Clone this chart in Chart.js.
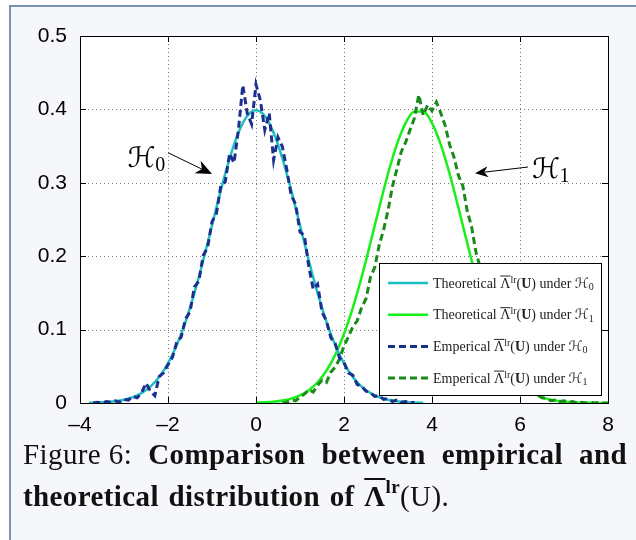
<!DOCTYPE html>
<html>
<head>
<meta charset="utf-8">
<script src="https://cdn.jsdelivr.net/npm/chart.js@4.4.1/dist/chart.umd.min.js"></script>
<style>
html, body { margin: 0; padding: 0; background: #fff; width: 636px; height: 540px; overflow: hidden; }
#box { position: absolute; left: 9px; top: 5px; width: 700px; height: 600px; border: 2px solid #7b92b3; background: #f5f7fa; }
#chart { position: absolute; left: 0; top: 0; }
.cap { position: absolute; left: 23px; width: 604px; font-family: "Liberation Serif", serif; font-size: 29px; color: #111; letter-spacing: 0.4px; }
#cap1 { top: 438px; text-align: justify; text-align-last: justify; }
#cap2 { top: 480px; white-space: nowrap; word-spacing: 2px; }
.fig { display: inline-block; }
.ol { text-decoration: overline; }
.sup { font-size: 19px; position: relative; top: -13px; }
</style>
</head>
<body>
<div id="box"></div>
<canvas id="chart" width="636" height="440"></canvas>
<div class="cap" id="cap1"><span class="fig">Figure 6:</span> <b>Comparison between empirical and</b></div>
<div class="cap" id="cap2"><b>theoretical distribution of <span class="ol">Λ</span><span class="sup">lr</span></b>(U).</div>
<script>
// theoretical densities
const theoH0X = [-3.8,-3.6,-3.4,-3.2,-3.0,-2.8,-2.6,-2.4,-2.2,-2.0,-1.8,-1.6,-1.4,-1.2,-1.0,-0.8,-0.6,-0.4,-0.2,0,
  0.2,0.4,0.6,0.8,1.0,1.2,1.4,1.6,1.8,2.0,2.2,2.4,2.6,2.8,3.0,3.2,3.4,3.6,3.8];
const theoH0Y = [0.0003,0.0006,0.0012,0.0024,0.0044,0.0079,0.0136,0.0224,0.0355,0.0540,0.0790,0.1109,0.1497,0.1942,
  0.2420,0.2897,0.3332,0.3683,0.3910,0.3989,0.3910,0.3683,0.3332,0.2897,0.2420,0.1942,0.1497,0.1109,0.0790,0.0540,
  0.0355,0.0224,0.0136,0.0079,0.0044,0.0024,0.0012,0.0006,0.0003];

const theoH1X = [0,0.2,0.4,0.6,0.8,1.0,1.2,1.4,1.6,1.8,2.0,2.2,2.4,2.6,2.8,3.0,3.2,3.4,3.6,3.8,
  4.0,4.2,4.4,4.6,4.8,5.0,5.2,5.4,5.6,5.8,6.0,6.2,6.4,6.6,6.8,7.0,7.2,7.4,7.6,7.8,8.0];
const theoH1Y = [0.0004,0.0009,0.0017,0.0033,0.0060,0.0104,0.0175,0.0283,0.0440,0.0656,0.0940,0.1295,0.1714,0.2179,
  0.2661,0.3123,0.3521,0.3814,0.3970,0.3970,0.3814,0.3521,0.3123,0.2661,0.2179,0.1714,0.1295,0.0940,0.0656,0.0440,
  0.0283,0.0175,0.0104,0.0060,0.0033,0.0017,0.0009,0.0004,0.0002,0.0001,0.0000];

// empirical histograms
const empH0X = [-3.7,-3.6,-3.5,-3.4,-3.3,-3.2,-3.1,-3.0,-2.9,-2.8,-2.7,-2.6,-2.5,-2.4,-2.3,-2.2,-2.1,-2.0,-1.9,-1.8,
  -1.7,-1.6,-1.5,-1.4,-1.3,-1.2,-1.1,-1.0,-0.9,-0.8,-0.7,-0.6,-0.5,-0.4,-0.3,-0.2,-0.1,0.0,0.1,0.2,
  0.3,0.4,0.5,0.6,0.7,0.8,0.9,1.0,1.1,1.2,1.3,1.4,1.5,1.6,1.7,1.8,1.9,2.0,2.1,2.2,
  2.3,2.4,2.5,2.6,2.7,2.8,2.9,3.0,3.1,3.2,3.3,3.4,3.5,3.6];
const empH0Y = [0.000,0.001,0.000,0.002,0.001,0.003,0.001,0.005,0.004,0.009,0.007,0.014,0.027,0.016,0.010,0.036,0.041,0.052,0.062,0.083,
  0.090,0.115,0.124,0.158,0.166,0.201,0.212,0.247,0.258,0.296,0.301,0.340,0.327,0.372,0.433,0.395,0.380,0.434,0.412,0.372,
  0.395,0.331,0.362,0.349,0.318,0.283,0.271,0.233,0.228,0.186,0.155,0.162,0.124,0.112,0.089,0.081,0.061,0.055,0.041,0.038,
  0.025,0.023,0.016,0.014,0.009,0.010,0.005,0.006,0.002,0.004,0.001,0.002,0.000,0.001];

const empH1X = [0.6,0.7,0.8,0.9,1.0,1.1,1.2,1.3,1.4,1.5,1.6,1.7,1.8,1.9,2.0,2.1,2.2,2.3,2.4,2.5,
  2.6,2.7,2.8,2.9,3.0,3.1,3.2,3.3,3.4,3.5,3.6,3.7,3.8,3.9,4.0,4.1,4.2,4.3,4.4,4.5,
  4.6,4.7,4.8,4.9,5.0,5.1,5.2,5.3,5.4,5.5,5.6,5.7,5.8,5.9,6.0,6.1,6.2,6.3,6.4,6.5,
  6.6,6.7,6.8,6.9,7.0,7.1,7.2,7.3,7.4,7.5,7.6,7.7,7.8,7.9,8.0];
const empH1Y = [0.000,0.001,0.004,0.003,0.008,0.012,0.018,0.015,0.024,0.031,0.028,0.042,0.049,0.060,0.078,0.090,0.104,0.112,0.130,0.142,
  0.171,0.185,0.215,0.236,0.262,0.295,0.318,0.342,0.355,0.372,0.388,0.420,0.392,0.406,0.398,0.410,0.395,0.378,0.352,0.335,
  0.310,0.296,0.262,0.240,0.205,0.184,0.160,0.138,0.117,0.096,0.081,0.064,0.052,0.041,0.032,0.024,0.019,0.013,0.011,0.007,
  0.006,0.003,0.004,0.002,0.003,0.001,0.002,0.000,0.001,0.000,0.001,0.000,0.001,0.000,0.000];

const xTickLabels = ['\u20134', '\u20132', '0', '2', '4', '6', '8'];
const yTickLabels = ['0', '0.1', '0.2', '0.3', '0.4', '0.5'];

const legendKinds = ['Theoretical', 'Theoretical', 'Emperical', 'Emperical'];
const legendSubs = ['0', '1', '0', '1'];

// annotation labels, arrow start and tip in data units
const notes = [
  { sub: '0', lx: -2.92, ly: 0.322, from: [-2.0, 0.341], to: [-1.0, 0.312], head: [16, 14] },
  { sub: '1', lx: 6.27, ly: 0.3065, from: [6.18, 0.3215], to: [4.98, 0.313], head: [13, 11] }
];

function zip(xs, ys) {
  return xs.map((x, i) => ({ x: x, y: ys[i] }));
}

const SERIF = '"Liberation Serif", serif';
const SCRIPT = '"DejaVu Serif", "DejaVu Sans", serif';

function richText(ctx, x, y, parts) {
  parts.forEach(p => {
    ctx.font = p.f;
    ctx.fillText(p.t, x, y + (p.dy || 0));
    const w = ctx.measureText(p.t).width;
    if (p.over) {
      ctx.beginPath();
      ctx.moveTo(x, y - p.over);
      ctx.lineTo(x + w, y - p.over);
      ctx.lineWidth = 1;
      ctx.stroke();
    }
    x += w;
  });
}

function arrow(ctx, x1, y1, x2, y2, len, wid) {
  const a = Math.atan2(y2 - y1, x2 - x1);
  ctx.beginPath();
  ctx.moveTo(x1, y1);
  ctx.lineTo(x2 - len * 0.7 * Math.cos(a), y2 - len * 0.7 * Math.sin(a));
  ctx.lineWidth = 1;
  ctx.stroke();
  ctx.save();
  ctx.translate(x2, y2);
  ctx.rotate(a);
  ctx.beginPath();
  ctx.moveTo(0, 0);
  ctx.lineTo(-len, -wid / 2);
  ctx.lineTo(-len * 0.7, 0);
  ctx.lineTo(-len, wid / 2);
  ctx.closePath();
  ctx.fill();
  ctx.restore();
}

const framePlugin = {
  id: 'frame',
  beforeDraw(chart) {
    const { ctx, chartArea: a } = chart;
    ctx.save();
    ctx.fillStyle = '#fff';
    ctx.fillRect(a.left, a.top, a.width, a.height);
    ctx.restore();
  },
  beforeDatasetsDraw(chart) {
    const { ctx, chartArea: a, scales: { x, y } } = chart;
    ctx.save();
    ctx.strokeStyle = '#777';
    ctx.lineWidth = 1;
    ctx.setLineDash([1, 3]);
    x.ticks.forEach(t => {
      const px = Math.round(x.getPixelForValue(t.value)) + 0.5;
      if (px < a.left + 2 || px > a.right - 2) return;
      ctx.beginPath(); ctx.moveTo(px, a.top); ctx.lineTo(px, a.bottom); ctx.stroke();
    });
    y.ticks.forEach(t => {
      const py = Math.round(y.getPixelForValue(t.value)) + 0.5;
      if (py < a.top + 2 || py > a.bottom - 2) return;
      ctx.beginPath(); ctx.moveTo(a.left, py); ctx.lineTo(a.right, py); ctx.stroke();
    });
    ctx.restore();
  },
  afterDatasetsDraw(chart) {
    const { ctx, chartArea: a, scales: { x, y } } = chart;
    ctx.save();
    // box and inward ticks
    ctx.strokeStyle = '#000';
    ctx.lineWidth = 1;
    ctx.strokeRect(Math.round(a.left) + 0.5, Math.round(a.top) + 0.5, Math.round(a.width), Math.round(a.height));
    ctx.beginPath();
    x.ticks.forEach(t => {
      const px = Math.round(x.getPixelForValue(t.value)) + 0.5;
      ctx.moveTo(px, a.bottom); ctx.lineTo(px, a.bottom - 6);
      ctx.moveTo(px, a.top); ctx.lineTo(px, a.top + 6);
    });
    y.ticks.forEach(t => {
      const py = Math.round(y.getPixelForValue(t.value)) + 0.5;
      ctx.moveTo(a.left, py); ctx.lineTo(a.left + 6, py);
      ctx.moveTo(a.right, py); ctx.lineTo(a.right - 6, py);
    });
    ctx.stroke();

    // H0 / H1 annotations
    ctx.fillStyle = '#000';
    ctx.strokeStyle = '#000';
    ctx.textBaseline = 'alphabetic';
    notes.forEach(n => {
      richText(ctx, x.getPixelForValue(n.lx), y.getPixelForValue(n.ly), [
        { t: '\u210B', f: '28px ' + SCRIPT },
        { t: n.sub, f: '20px ' + SERIF, dy: 4 }
      ]);
      arrow(ctx, x.getPixelForValue(n.from[0]), y.getPixelForValue(n.from[1]),
        x.getPixelForValue(n.to[0]), y.getPixelForValue(n.to[1]), n.head[0], n.head[1]);
    });

    // legend
    const lx = Math.round(a.right) - 229, ly = Math.round(a.bottom) - 140, lw = 222, lh = 132;
    ctx.fillStyle = '#fff';
    ctx.fillRect(lx, ly, lw, lh);
    ctx.strokeStyle = '#000';
    ctx.lineWidth = 1;
    ctx.strokeRect(lx + 0.5, ly + 0.5, lw, lh);
    const F = '14px ' + SERIF, FB = 'bold 14px ' + SERIF, FS = '10px ' + SERIF, FH = '14px ' + SCRIPT;
    chart.data.datasets.forEach((ds, i) => {
      const cy = ly + 20 + i * 31.7;
      ctx.save();
      ctx.strokeStyle = ds.borderColor;
      ctx.lineWidth = ds.borderWidth;
      ctx.setLineDash(ds.borderDash || []);
      ctx.beginPath(); ctx.moveTo(lx + 9, cy); ctx.lineTo(lx + 49, cy); ctx.stroke();
      ctx.restore();
      ctx.fillStyle = '#222';
      ctx.strokeStyle = '#222';
      richText(ctx, lx + 54, cy + 4.5, [
        { t: legendKinds[i] + ' ', f: F },
        { t: '\u039B', f: F, over: 11.5 },
        { t: 'lr', f: FS, dy: -5 },
        { t: '(', f: F },
        { t: 'U', f: FB },
        { t: ')', f: F },
        { t: ' under ', f: F },
        { t: '\u210B', f: FH },
        { t: legendSubs[i], f: FS, dy: 2.5 }
      ]);
    });
    ctx.restore();
  }
};

const tickFont = { family: '"Liberation Sans", Arial, sans-serif', size: 21 };

new Chart(document.getElementById('chart'), {
  type: 'line',
  data: {
    datasets: [
      { data: zip(theoH0X, theoH0Y), borderColor: '#1dbfc2', borderWidth: 2.5, cubicInterpolationMode: 'monotone', order: 2 },
      { data: zip(theoH1X, theoH1Y), borderColor: '#19f019', borderWidth: 2.5, cubicInterpolationMode: 'monotone', order: 2 },
      { data: zip(empH0X, empH0Y), borderColor: '#1b2f8f', borderWidth: 3, borderDash: [7, 4], tension: 0, order: 1 },
      { data: zip(empH1X, empH1Y), borderColor: '#1a8a1a', borderWidth: 3, borderDash: [7, 4], tension: 0, order: 1 }
    ]
  },
  options: {
    responsive: false,
    animation: false,
    devicePixelRatio: 1,
    elements: { point: { radius: 0 } },
    layout: { padding: { left: 20, top: 36, right: 28, bottom: 7 } },
    plugins: { legend: { display: false }, tooltip: { enabled: false } },
    scales: {
      x: {
        type: 'linear', min: -4, max: 8,
        grid: { display: false }, border: { display: false },
        ticks: { stepSize: 2, padding: 2, color: '#000', font: tickFont, maxRotation: 0,
          callback: (v, i) => xTickLabels[i] },
        afterFit(s) { s.height = 30; s.paddingLeft = s.paddingRight = s.paddingTop = s.paddingBottom = 0; }
      },
      y: {
        min: 0, max: 0.5,
        grid: { display: false }, border: { display: false },
        ticks: { stepSize: 0.1, padding: 5, color: '#000', font: tickFont,
          callback: (v, i) => yTickLabels[i] },
        afterFit(s) { s.width = 60; s.paddingLeft = s.paddingRight = s.paddingTop = s.paddingBottom = 0; }
      }
    }
  },
  plugins: [framePlugin]
});
</script>
</body>
</html>
